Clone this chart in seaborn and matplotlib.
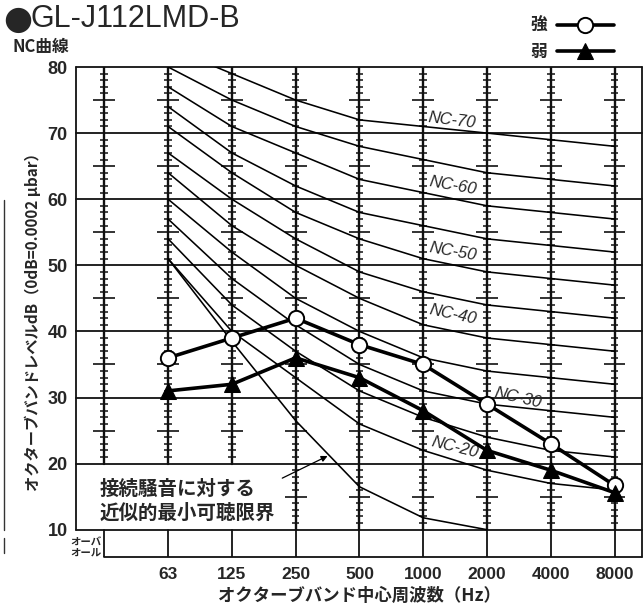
import numpy as np
import pandas as pd
import matplotlib
matplotlib.use('Agg')
import matplotlib.pyplot as plt
import seaborn as sns

## octave band centre frequencies (column 0 is the "overall" column)
freq_labels = ['63', '125', '250', '500', '1000', '2000', '4000', '8000']

## NC curves, levels in dB at 63 ... 8000 Hz
nc_names = ['NC-20', 'NC-25', 'NC-30', 'NC-35', 'NC-40', 'NC-45',
            'NC-50', 'NC-55', 'NC-60', 'NC-65', 'NC-70']
nc20 = [51, 40, 33, 26, 22, 19, 17, 16]
nc25 = [54, 44, 37, 31, 27, 24, 22, 21]
nc30 = [57, 48, 41, 35, 31, 29, 28, 27]
nc35 = [60, 52, 45, 40, 36, 34, 33, 32]
nc40 = [64, 56, 50, 45, 41, 39, 38, 37]
nc45 = [67, 60, 54, 49, 46, 44, 43, 42]
nc50 = [71, 64, 58, 54, 51, 49, 48, 47]
nc55 = [74, 67, 62, 58, 56, 54, 53, 52]
nc60 = [77, 71, 67, 63, 61, 59, 58, 57]
nc65 = [80, 75, 71, 68, 66, 64, 63, 62]
nc70 = [83, 79, 75, 72, 71, 70, 69, 68]

## approximate threshold of hearing (63 ... 2000 Hz)
threshold = [51, 38.5, 26.5, 16.5, 11.8, 10]

## measured levels
strong = [36, 39, 42, 38, 35, 29, 23, 16.7]
weak = [31, 32, 36, 33, 28, 22, 19, 15.6]

# labels drawn on the curves: (text, x index, level, rotation)
nc_label_pos = [('NC-70', 5.45, 71.9, -7), ('NC-60', 5.47, 62.0, -10),
                ('NC-50', 5.47, 52.0, -10), ('NC-40', 5.47, 42.5, -12),
                ('NC-30', 6.48, 29.9, -13), ('NC-20', 5.49, 22.5, -14)]

sns.set_style('white')
plt.rcParams['font.family'] = ['Liberation Sans', 'DejaVu Sans']
JP = ['Noto Sans CJK JP', 'DejaVu Sans']

fig = plt.figure(figsize=(6.43, 6.06), dpi=100)
W, H = 643, 606
x_left, x_right = -0.444, 8.43
y_bot, y_top = 5.87, 80
ax = fig.add_axes([76 / W, 1 - 557 / H, (642 - 76) / W, (557 - 67) / H])
ax.set_xlim(x_left, x_right)
ax.set_ylim(y_bot, y_top)
for s in ax.spines.values():
    s.set_visible(False)

idx = np.arange(1, 9)

## NC curves
rows = []
curves = [nc20, nc25, nc30, nc35, nc40, nc45, nc50, nc55, nc60, nc65, nc70]
for name, vals in zip(nc_names, curves):
    for i, v in zip(idx, vals):
        rows.append({'curve': name, 'x': i, 'level': v})
for i, v in zip(idx, threshold):
    rows.append({'curve': 'threshold', 'x': i, 'level': v})
nc_df = pd.DataFrame(rows)
sns.lineplot(data=nc_df, x='x', y='level', units='curve', estimator=None,
             color='black', lw=1.15, ax=ax, zorder=3)

## frame and grid
lc = '#111111'
for lev in range(10, 90, 10):
    ax.plot([x_left, x_right], [lev, lev], color=lc, lw=1.3, zorder=2, clip_on=False)
ax.plot([x_left, x_left], [10, 80], color=lc, lw=1.3, clip_on=False)
ax.plot([x_right, x_right], [y_bot, 80], color=lc, lw=1.3, clip_on=False)
ax.plot([0, x_right], [y_bot, y_bot], color=lc, lw=1.3, clip_on=False)

small = np.arange(11, 80)
small = small[small % 10 != 0]
for col in range(9):
    top_from = 20 if col <= 2 else 10
    ax.plot([col, col], [top_from, 80], color=lc, lw=1.7, zorder=2)
    ax.plot([col, col], [y_bot, 10], color=lc, lw=1.3, zorder=2)
    tk = small[small > top_from]
    minor = tk[tk % 5 != 0]
    major = tk[tk % 5 == 0]
    ax.hlines(minor, col - 0.06, col + 0.06, color=lc, lw=1.1, zorder=2)
    ax.hlines(major, col - 0.17, col + 0.17, color=lc, lw=1.2, zorder=2)

## measured series
ax_df = pd.DataFrame({'x': idx, 'strong': strong, 'weak': weak})
sns.lineplot(data=ax_df, x='x', y='strong', color='black', lw=2.6, marker='o',
             markersize=11, markerfacecolor='white', markeredgecolor='black',
             markeredgewidth=1.4, ax=ax, zorder=5, label='強')
sns.lineplot(data=ax_df, x='x', y='weak', color='black', lw=2.6, marker='^',
             markersize=11, markerfacecolor='black', markeredgecolor='black',
             ax=ax, zorder=5, label='弱')

for txt, xi, yi, rot in nc_label_pos:
    ax.text(xi, yi, txt, fontsize=12, style='italic', rotation=rot,
            ha='center', va='center', zorder=4)

## threshold annotation
ax.text(-0.07, 14.3, '接続騒音に対する\n近似的最小可聴限界', family=JP,
        fontsize=14, fontweight='bold', ha='left', va='center', linespacing=1.35)
ax.annotate('', xy=(3.5, 21.15), xytext=(2.79, 17.8),
            arrowprops=dict(arrowstyle='-|>', color='black', lw=0.9,
                            mutation_scale=9, shrinkA=0, shrinkB=0))

ax.text(-0.04, 7.3, 'オーバ\nオール', family=JP, fontsize=7.5, fontweight='bold',
        ha='right', va='center', linespacing=1.05)

## ticks
ax.set_xticks(idx)
ax.set_xticklabels(freq_labels, fontsize=12.5, fontweight='bold')
ax.set_yticks(range(10, 90, 10))
ax.set_yticklabels([str(v) for v in range(10, 90, 10)], fontsize=13, fontweight='bold')
ax.tick_params(axis='both', length=0)
ax.tick_params(axis='x', pad=7)
ax.tick_params(axis='y', pad=6)
ax.set_xlabel('オクターブバンド中心周波数（Hz）', family=JP, fontsize=12.5,
              fontweight='bold', labelpad=4)
ax.set_ylabel('')

leg = ax.legend(loc='center right', bbox_to_anchor=(622 / W, 1 - 39 / H),
                bbox_transform=fig.transFigure, frameon=False, markerfirst=False,
                handlelength=3.4, handletextpad=0.6, labelspacing=0.45,
                prop={'family': JP, 'weight': 'bold', 'size': 12}, borderpad=0)

## titles and labels outside the axes
fig.text(3 / W, 1 - 19 / H, '●', family=['DejaVu Sans'], fontsize=24,
         va='center', ha='left')
fig.text(31 / W, 1 - 19 / H, 'GL-J112LMD-B', fontsize=22, va='center', ha='left')
fig.text(12 / W, 1 - 47 / H, 'NC曲線', family=JP, fontsize=12, fontweight='bold',
         va='center', ha='left')
fig.text(33 / W, 1 - 318 / H, 'オクターブバンドレベルdB（0dB=0.0002 μbar）', family=JP,
         fontsize=11, fontweight='bold', rotation=90, va='center', ha='center')

## scan edge at the far left
fig.add_artist(plt.Line2D([4 / W, 4 / W], [1 - 530 / H, 1 - 200 / H], color='#333333', lw=1.0))
fig.add_artist(plt.Line2D([4 / W, 4 / W], [1 - 553 / H, 1 - 538 / H], color='#333333', lw=1.0))

fig.savefig('out.png', dpi=100)
